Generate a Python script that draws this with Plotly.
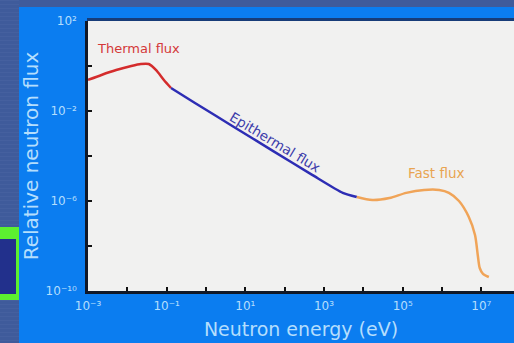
import plotly.graph_objects as go

# ---- data ----
thermal_energy = [1.0e-3, 2.2e-3, 5.2e-3, 1.26e-2, 2.2e-2, 3.5e-2, 5.4e-2, 8.5e-2, 0.129]
thermal_flux   = [0.24, 0.40, 0.66, 1.0, 1.23, 1.23, 0.66, 0.24, 0.105]

epi_energy = [0.129, 0.5, 5.0, 50.0, 500.0, 3000.0, 6800.0]
epi_flux   = [0.105, 2.4e-2, 2.0e-3, 1.7e-4, 1.45e-5, 2.3e-6, 1.5e-6]

fast_energy = [6800.0, 1.7e4, 4.6e4, 1.23e5, 3.5e5, 8.5e5, 1.5e6, 2.7e6, 4.8e6, 6.9e6, 8.1e6, 9.1e6, 1.1e7, 1.55e7]
fast_flux   = [1.5e-6, 1.1e-6, 1.35e-6, 2.3e-6, 3.1e-6, 3.1e-6, 2.3e-6, 1.0e-6, 1.95e-7, 3.1e-8, 4.0e-9, 1.05e-9, 5.8e-10, 4.2e-10]

x_tick_exps = [-3, -2, -1, 0, 1, 2, 3, 4, 5, 6, 7]
y_tick_exps = [-10, -8, -6, -4, -2, 0, 2]

sup = {"-": "\u207b", "0": "\u2070", "1": "\u00b9", "2": "\u00b2", "3": "\u00b3",
       "4": "\u2074", "5": "\u2075", "6": "\u2076", "7": "\u2077", "8": "\u2078", "9": "\u2079"}
def lab(e):
    return "10" + "".join(sup[c] for c in str(e))

x_ticktext = [lab(e) if e % 2 else "" for e in x_tick_exps]
y_ticktext = [lab(e) if (e - 2) % 4 == 0 else "" for e in y_tick_exps]

W, H = 514, 343
L, R, T, B = 88, 0, 21, 52
PW, PH = W - L - R, H - T - B

def px(p):
    return (p - L) / PW
def py(q):
    return (H - B - q) / PH

BLUE_PANEL = "#0b7df0"
STRIPE = "#3f5b9b"
LABEL = "#b4defd"
FONT = "DejaVu Sans, Arial, sans-serif"

fig = go.Figure()
fig.add_trace(go.Scatter(x=thermal_energy, y=thermal_flux, mode="lines",
                         line=dict(color="#d42c2c", width=2.5, shape="spline", smoothing=0.6)))
fig.add_trace(go.Scatter(x=epi_energy, y=epi_flux, mode="lines",
                         line=dict(color="#2d2db4", width=2.5, shape="spline", smoothing=0.6)))
fig.add_trace(go.Scatter(x=fast_energy, y=fast_flux, mode="lines",
                         line=dict(color="#f0a458", width=2.5, shape="spline", smoothing=0.8)))

shapes = [
    # striped outer background (left and top)
    dict(type="rect", xref="paper", yref="paper", x0=px(0), x1=px(19), y0=py(H), y1=py(0),
         fillcolor=STRIPE, line=dict(width=0), layer="below"),
    dict(type="rect", xref="paper", yref="paper", x0=px(0), x1=px(W), y0=py(7), y1=py(0),
         fillcolor=STRIPE, line=dict(width=0), layer="below"),
]
for i in range(0, H, 4):
    shapes.append(dict(type="line", xref="paper", yref="paper", x0=px(0), x1=px(19),
                       y0=py(i + 0.5), y1=py(i + 0.5), line=dict(color="#45609f", width=1),
                       layer="below"))
shapes += [
    # green box
    dict(type="rect", xref="paper", yref="paper", x0=px(0), x1=px(19), y0=py(300), y1=py(227),
         fillcolor="#5cf030", line=dict(width=0)),
    dict(type="rect", xref="paper", yref="paper", x0=px(0), x1=px(16), y0=py(294), y1=py(239),
         fillcolor="#22308c", line=dict(width=0)),
    # dark top edge of the frame
    dict(type="rect", xref="paper", yref="paper", x0=px(L - 1), x1=px(W), y0=py(21), y1=py(18),
         fillcolor="#173c78", line=dict(width=0)),
]

fig.update_layout(
    width=W, height=H,
    margin=dict(l=L, r=R, t=T, b=B, pad=0),
    paper_bgcolor=BLUE_PANEL,
    plot_bgcolor="#f1f1f0",
    showlegend=False,
    font=dict(family=FONT, color=LABEL),
    shapes=shapes,
    annotations=[
        dict(x=-1.71, y=0.8, xref="x", yref="y", text="Thermal flux", showarrow=False,
             font=dict(size=13, color="#d43838")),
        dict(x=1.76, y=-3.36, xref="x", yref="y", text="Epithermal flux", showarrow=False,
             textangle=31, font=dict(size=13.5, color="#3c3caa")),
        dict(x=5.85, y=-4.76, xref="x", yref="y", text="Fast flux", showarrow=False,
             font=dict(size=13.5, color="#e8a450")),
    ],
    xaxis=dict(type="log", range=[-3, 7.83], showgrid=False, zeroline=False,
               showline=True, linecolor="#101828", linewidth=2.5,
               tickvals=[10.0 ** e for e in x_tick_exps], ticktext=x_ticktext,
               ticks="inside", ticklen=4, tickwidth=2, tickcolor="#101010",
               tickfont=dict(size=12, color=LABEL), ticklabelstandoff=2,
               title=dict(text="Neutron energy (eV)", font=dict(size=19, color=LABEL), standoff=11)),
    yaxis=dict(type="log", range=[-10, 2], showgrid=False, zeroline=False,
               showline=True, linecolor="#101828", linewidth=2.5,
               tickvals=[10.0 ** e for e in y_tick_exps], ticktext=y_ticktext,
               ticks="inside", ticklen=4, tickwidth=2, tickcolor="#101010",
               tickfont=dict(size=12, color=LABEL), ticklabelstandoff=6,
               title=dict(text="Relative neutron flux", font=dict(size=20, color=LABEL), standoff=2)),
)

fig.write_html("out.html", config={"displayModeBar": False},
               post_script="document.body.style.margin='0';document.body.style.overflow='hidden';")
